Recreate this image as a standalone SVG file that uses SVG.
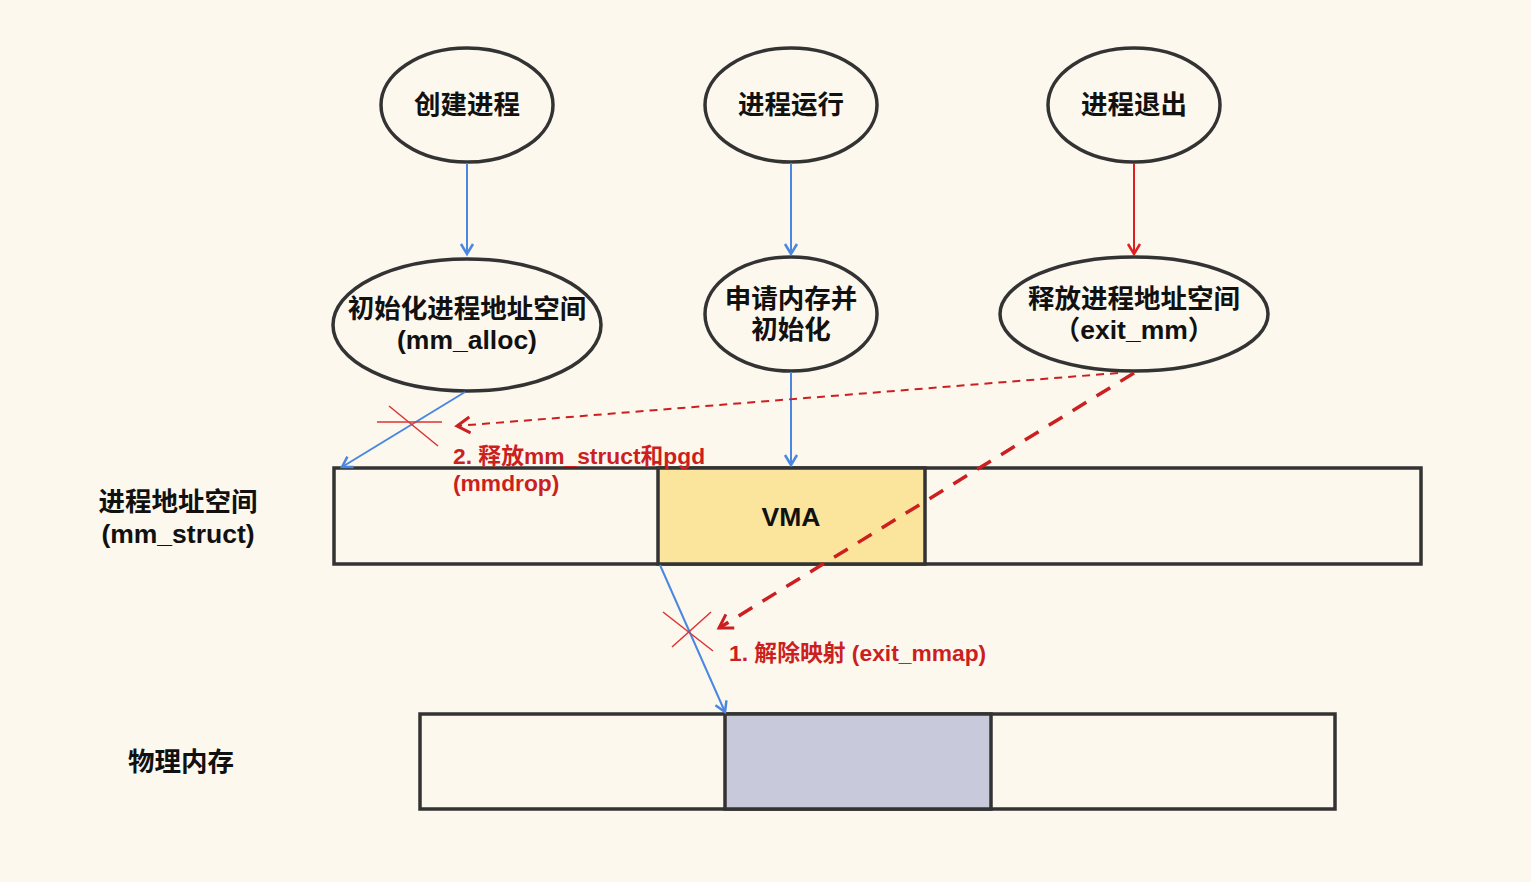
<svg xmlns="http://www.w3.org/2000/svg" width="1531" height="882" viewBox="0 0 1531 882">
<style>
text{font-family:"Liberation Sans","Noto Sans CJK SC",sans-serif;font-weight:bold}
.n{fill:none;stroke:#333;stroke-width:3.5}
.t{font-size:26.5px;fill:#111;text-anchor:middle}
.lbl{font-size:26.5px;fill:#111;text-anchor:middle}
.red{font-size:22.8px;fill:#cc1f1f}
.blue{stroke:#4a87e0;stroke-width:2;fill:none}
.box{stroke:#333;stroke-width:3.5}
.x{stroke:#d33;stroke-width:1.5}
</style>
<defs>
<marker id="ab" markerWidth="16" markerHeight="16" refX="12" refY="8" orient="auto" markerUnits="userSpaceOnUse"><path d="M2,2 L12,8 L2,14" fill="none" stroke="#4a87e0" stroke-width="2.5"/></marker>
<marker id="ar" markerWidth="16" markerHeight="16" refX="12" refY="8" orient="auto" markerUnits="userSpaceOnUse"><path d="M2,2 L12,8 L2,14" fill="none" stroke="#e02020" stroke-width="2.5"/></marker>
<marker id="ard" markerWidth="20" markerHeight="20" refX="14" refY="10" orient="auto" markerUnits="userSpaceOnUse"><path d="M1,2 L14,10 L1,18" fill="none" stroke="#cc1f1f" stroke-width="3"/></marker>
</defs>
<rect width="1531" height="882" fill="#fcf8ee"/>
<g id="n1"><ellipse class="n" cx="467" cy="105" rx="86" ry="57"/><text class="t" x="467" y="114">创建进程</text></g>
<g id="n2"><ellipse class="n" cx="791" cy="105" rx="86" ry="57"/><text class="t" x="791" y="114">进程运行</text></g>
<g id="n3"><ellipse class="n" cx="1134" cy="105" rx="86" ry="57"/><text class="t" x="1134" y="114">进程退出</text></g>
<g id="n4"><ellipse class="n" cx="467" cy="325" rx="134" ry="66"/><text class="t" x="467" y="318">初始化进程地址空间</text><text class="t" x="467" y="349">(mm_alloc)</text></g>
<g id="n5"><ellipse class="n" cx="791" cy="314" rx="86" ry="57"/><text class="t" x="791" y="308">申请内存并</text><text class="t" x="791" y="339">初始化</text></g>
<g id="n6"><ellipse class="n" cx="1134" cy="314" rx="134" ry="57"/><text class="t" x="1134" y="308">释放进程地址空间</text><text class="t" x="1134" y="339">（exit_mm）</text></g>
<g id="mm">
<rect class="box" x="334" y="468" width="1087" height="96" fill="none"/>
<rect class="box" x="658" y="468" width="267" height="96" fill="#fbe59c"/>
<text class="t" x="791" y="526">VMA</text>
</g>
<g id="phys">
<rect class="box" x="420" y="714" width="915" height="95" fill="none"/>
<rect class="box" x="725" y="714" width="266" height="95" fill="#c9c9dc"/>
</g>
<g id="connectors">
<line class="blue" x1="467" y1="163" x2="467" y2="254" marker-end="url(#ab)"/>
<line class="blue" x1="791" y1="163" x2="791" y2="254" marker-end="url(#ab)"/>
<line x1="1134" y1="163" x2="1134" y2="254" stroke="#e02020" stroke-width="2" marker-end="url(#ar)"/>
<line class="blue" x1="465" y1="392" x2="342" y2="467" marker-end="url(#ab)"/>
<line class="blue" x1="791" y1="372" x2="791" y2="465" marker-end="url(#ab)"/>
<line class="blue" x1="660" y1="565" x2="725" y2="712" marker-end="url(#ab)"/>
<line x1="1118" y1="373" x2="457" y2="426" stroke="#cc1f1f" stroke-width="2" stroke-dasharray="8,6" marker-end="url(#ard)"/>
<line x1="1134" y1="373" x2="719" y2="628" stroke="#cc1f1f" stroke-width="3.5" stroke-dasharray="16,12" marker-end="url(#ard)"/>
<line class="x" x1="377" y1="422" x2="442" y2="422"/>
<line class="x" x1="389" y1="406" x2="438" y2="446"/>
<line class="x" x1="663" y1="612" x2="713" y2="651"/>
<line class="x" x1="672" y1="647" x2="711" y2="612"/>
</g>
<g id="labels">
<text class="lbl" x="178" y="511">进程地址空间</text>
<text class="lbl" x="178" y="543">(mm_struct)</text>
<text class="lbl" x="181" y="771">物理内存</text>
<text class="red" x="453" y="464">2. 释放mm_struct和pgd</text>
<text class="red" x="453" y="491">(mmdrop)</text>
<text class="red" x="729" y="661">1. 解除映射 (exit_mmap)</text>
</g>
</svg>
